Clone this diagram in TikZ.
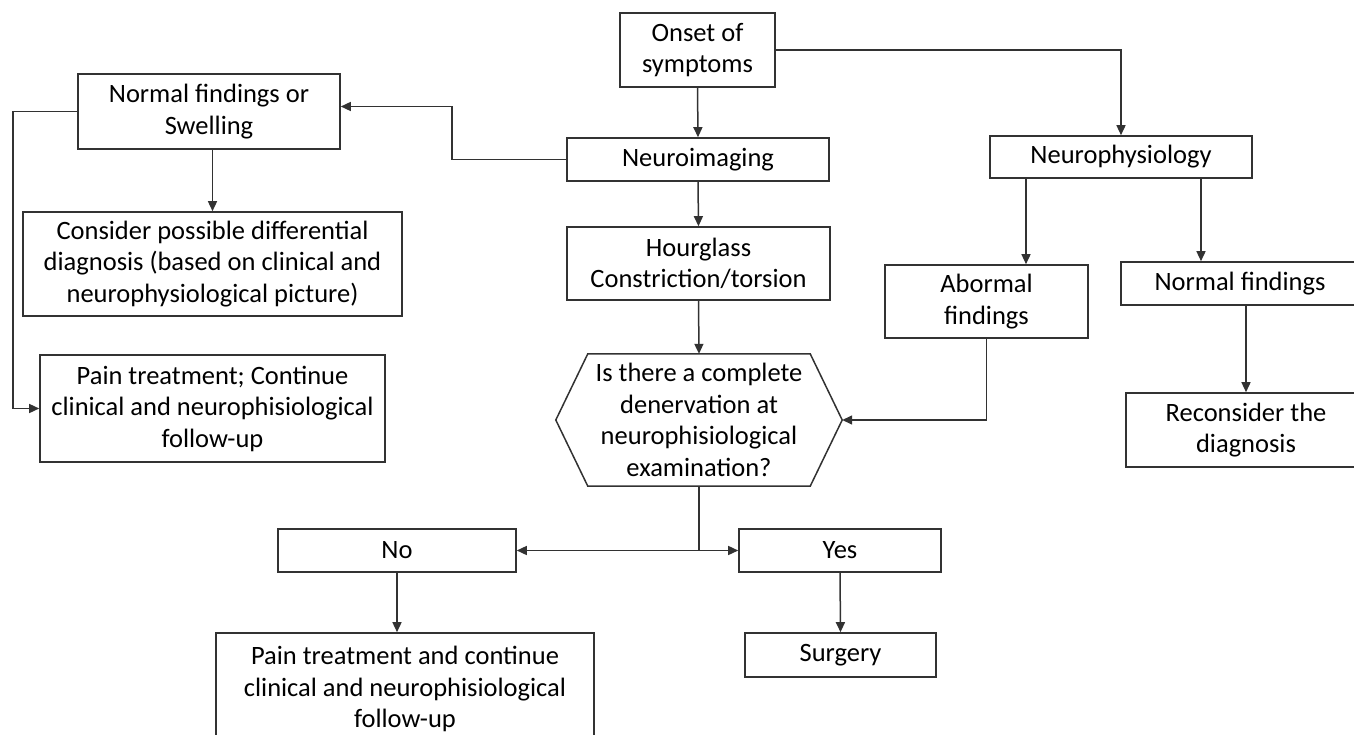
\documentclass[tikz,border=0pt]{standalone}
\usepackage{fontspec}
\setmainfont{Carlito}
\usepackage{xcolor}
\usetikzlibrary{arrows.meta,calc,positioning}
\definecolor{linegray}{RGB}{50,50,50}

\begin{document}
\begin{tikzpicture}[x=1pt,y=-1pt]
    \tikzstyle{box}=[rectangle,draw=linegray,line width=1.6pt,inner sep=0pt,%
    align=center,font=\fontsize{26.5}{31.5}\selectfont] %
    \tikzstyle{qbox}=[rectangle,inner sep=0pt,align=center,%
    font=\fontsize{26.5}{31.5}\selectfont] %
    \tikzstyle{arr}=[draw=linegray,line width=1.5pt,%
    -{Triangle[length=10pt,width=9pt]}] %
    \tikzstyle{wire}=[draw=linegray,line width=1.5pt] %

    \useasboundingbox (0,0) rectangle (1354,735);
    \clip (0,0) rectangle (1354,735);

    %% Centre column
    \node[box,minimum width=155,minimum height=74] (ONSET) at (697.5,50) {Onset of\\symptoms};
    \node[box,minimum width=262,minimum height=43] (IMG) at (698,159.5) {Neuroimaging};
    \node[box,minimum width=263,minimum height=73] (HOUR) at (698.5,263.5) {Hourglass\\Constriction/torsion};
    \node[qbox,minimum width=286,minimum height=132] (DENERV) at (699,420) {Is there a complete\\denervation at\\neurophisiological\\examination?};
    \draw[wire] (DENERV.west) -- ($(DENERV.north west)+(32,0)$)
        -- ($(DENERV.north east)+(-32,0)$) -- (DENERV.east)
        -- ($(DENERV.south east)+(-32,0)$) -- ($(DENERV.south west)+(32,0)$)
        -- cycle;
    \node[box,minimum width=238,minimum height=43] (NO) at (397,550.5) {No};
    \node[box,minimum width=202,minimum height=43] (YES) at (840,550.5) {Yes};
    \node[box,minimum width=378,minimum height=112] (PAINNO) at (405,689) {Pain treatment and continue\\clinical and neurophisiological\\follow-up};
    \node[box,minimum width=191,minimum height=44] (SURG) at (840.5,655) {Surgery};

    %% Left column
    \node[box,minimum width=262,minimum height=75] (NORMSW) at (209,111.5) {Normal findings or\\Swelling};
    \node[box,minimum width=379,minimum height=104] (DIFF) at (212.5,264) {Consider possible differential\\diagnosis (based on clinical and\\neurophysiological picture)};
    \node[box,minimum width=345,minimum height=107] (PAINFU) at (212.5,408.5) {Pain treatment; Continue\\clinical and neurophisiological\\follow-up};

    %% Right column
    \node[box,minimum width=262,minimum height=42] (PHYS) at (1121,157) {Neurophysiology};
    \node[box,minimum width=203,minimum height=73] (ABNORM) at (986.5,301.5) {Abormal\\findings};
    \node[box,minimum width=238,minimum height=43] (NORMF) at (1240,283.5) {Normal findings};
    \node[box,minimum width=240,minimum height=74] (RECONS) at (1246,430) {Reconsider the\\diagnosis};

    %% Connectors
    \draw[arr] (ONSET.south) -- (IMG.north);
    \draw[arr] (IMG.south) -- (HOUR.north);
    \draw[arr] (HOUR.south) -- (DENERV.north);
    \draw[arr] (ONSET.east) -| (PHYS.north);
    \draw[arr] (IMG.west) -- ++(-114,0) |- ([yshift=5pt]NORMSW.east);
    \draw[arr] (DIFF.north |- NORMSW.south) -- (DIFF.north);
    \draw[arr] (NORMSW.west) -- ++(-64,0) |- (PAINFU.west);
    \draw[arr] ([xshift=-95pt]PHYS.south) -- ([xshift=-95pt]PHYS.south |- ABNORM.north);
    \draw[arr] ([xshift=80pt]PHYS.south) -- ([xshift=80pt]PHYS.south |- NORMF.north);
    \draw[arr] (RECONS.north |- NORMF.south) -- (RECONS.north);
    \draw[arr] (ABNORM.south) |- (DENERV.east);
    \draw[wire] (DENERV.south) -- (DENERV.south |- NO.east) coordinate (SPLIT);
    \draw[arr] (SPLIT) -- (NO.east);
    \draw[arr] (SPLIT) -- (YES.west);
    \draw[arr] (NO.south) -- (NO.south |- PAINNO.north);
    \draw[arr] (YES.south) -- (SURG.north);
\end{tikzpicture}
\end{document}
